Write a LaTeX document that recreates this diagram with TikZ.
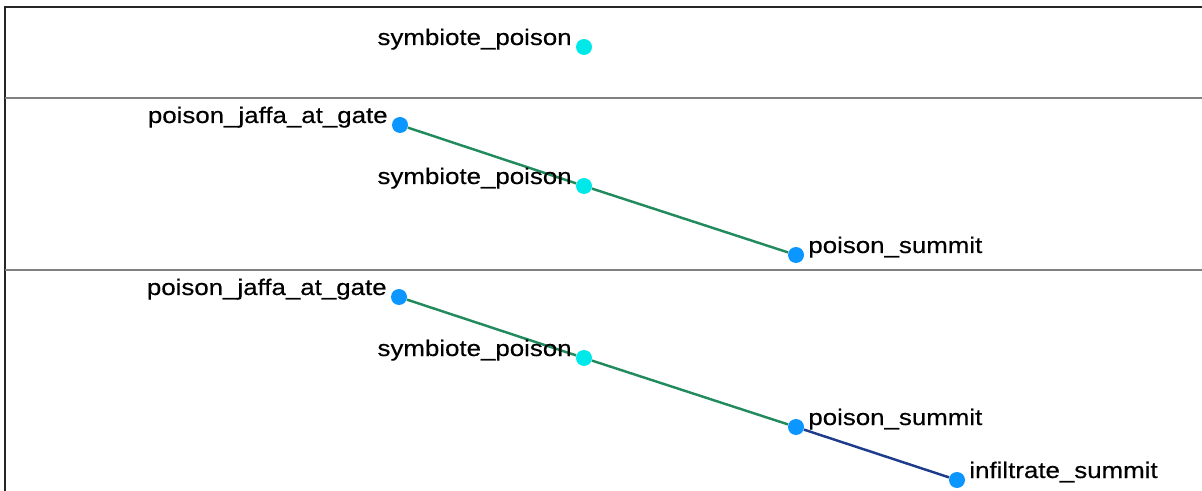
\documentclass[tikz,border=0pt]{standalone}
\usepackage{fontspec}
\newfontfamily\lblfont{Liberation Sans}[FakeStretch=1.15, FakeBold=0.4]
\usepackage{tikz}
\usetikzlibrary{arrows.meta, positioning}
\definecolor{stepcyan}{RGB}{0,232,232}
\definecolor{stepblue}{RGB}{12,150,255}
\definecolor{linkgreen}{RGB}{34,139,94}
\definecolor{linknavy}{RGB}{30,60,140}
\tikzset{
  dot/.style={circle, fill=#1, inner sep=0pt, minimum size=0.32cm},
  lbl/.style={font=\lblfont\fontsize{12.8}{15}\selectfont, text=black, inner sep=0pt},
  lblL/.style={lbl, anchor=base east, xshift=-0.24cm, yshift=0.04cm},
  lblR/.style={lbl, anchor=base west, xshift=0.24cm, yshift=0.04cm},
}

\begin{document}
\begin{tikzpicture}
  \useasboundingbox (0,0) rectangle (24.04,-9.82);
  \draw[black!85, line width=1.1pt] (0.1,-9.82)--(0.1,-0.14)--(24.04,-0.14);
  \draw[gray, line width=1.1pt] (0.1,-1.96)--(24.04,-1.96);
  \draw[gray, line width=1.1pt] (0.1,-5.40)--(24.04,-5.40);

  % first step
  \node[dot=stepcyan] (sp0) at (11.68,-0.94) {};
  \node[lblL] at (sp0) {symbiote\_poison};

  % second step
  \node[dot=stepblue] (jg1) at (8.00,-2.50) {};
  \node[dot=stepcyan] (sp1) at (11.68,-3.72) {};
  \node[dot=stepblue] (ps1) at (15.92,-5.10) {};
  \draw[linkgreen, line width=1.4pt] (jg1)--(sp1);
  \draw[linkgreen, line width=1.4pt] (sp1)--(ps1);
  \node[lblL] at (jg1) {poison\_jaffa\_at\_gate};
  \node[lblL] at (sp1) {symbiote\_poison};
  \node[lblR] at (ps1) {poison\_summit};

  % third step
  \node[dot=stepblue] (jg2) at (7.98,-5.94) {};
  \node[dot=stepcyan] (sp2) at (11.68,-7.16) {};
  \node[dot=stepblue] (ps2) at (15.92,-8.54) {};
  \node[dot=stepblue] (is2) at (19.14,-9.60) {};
  \draw[linkgreen, line width=1.4pt] (jg2)--(sp2);
  \draw[linkgreen, line width=1.4pt] (sp2)--(ps2);
  \draw[linknavy, line width=1.4pt] (ps2)--(is2);
  \node[lblL] at (jg2) {poison\_jaffa\_at\_gate};
  \node[lblL] at (sp2) {symbiote\_poison};
  \node[lblR] at (ps2) {poison\_summit};
  \node[lblR] at (is2) {infiltrate\_summit};
\end{tikzpicture}
\end{document}
